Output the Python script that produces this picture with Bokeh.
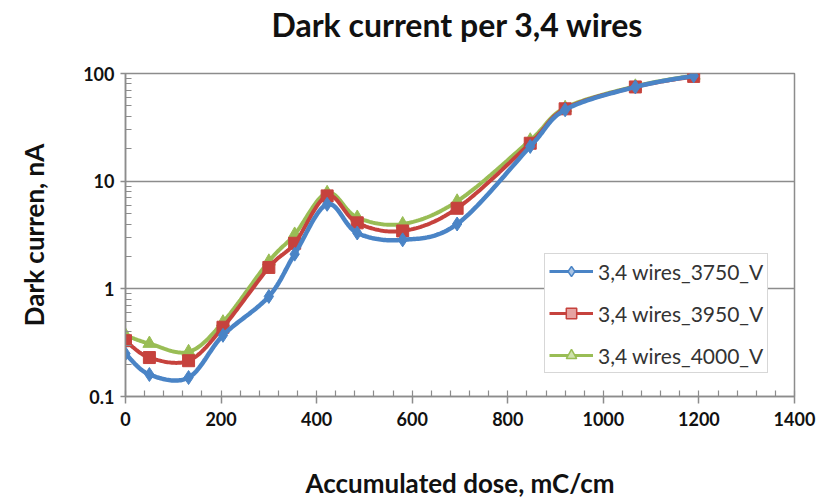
import numpy as np
from bokeh.plotting import figure
from bokeh.models import (ColumnDataSource, Legend, LegendItem, SingleIntervalTicker,
                          FixedTicker, NumeralTickFormatter, Range1d, Title)
from bokeh.embed import file_html
from bokeh.resources import INLINE

# ---- data ----
dose = [0, 50, 132, 204, 300, 354, 422, 485, 580, 694, 847, 920, 1067, 1189]
names = ["3,4 wires_3750_V", "3,4 wires_3950_V", "3,4 wires_4000_V"]
cur_3750 = [0.25, 0.16, 0.15, 0.37, 0.85, 2.1, 6.1, 3.3, 2.85, 4.0, 21.0, 46.0, 75.0, 95.0]
cur_3950 = [0.33, 0.23, 0.215, 0.44, 1.58, 2.65, 7.3, 4.1, 3.45, 5.6, 22.5, 47.0, 75.0, 94.0]
cur_4000 = [0.37, 0.31, 0.26, 0.49, 1.8, 3.2, 7.8, 4.6, 4.0, 6.5, 24.0, 48.0, 76.0, 96.0]
y_ticks = [0.1, 1, 10, 100]
x_tick_step = 200
title_text = "Dark current per 3,4 wires"

colors = ["#4a84c6", "#c6423d", "#99bd55"]
light = ["#a9c4e4", "#e6a3a1", "#cfe1ad"]
markers = ["diamond", "square", "triangle"]
msizes = [14, 12, 13]
lwidths = [4.5, 4.0, 4.0]


def smooth(xs, ys, n=30):
    """Smoothed (Excel-like Bezier) path through the points, in screen-like space."""
    u = np.asarray(xs, float) / 1400.0 * 669.0
    v = np.log10(np.asarray(ys, float)) * 109.2
    P = np.column_stack([u, v])
    P = np.vstack([P[0], P, P[-1]])
    pts = []
    for i in range(1, len(P) - 2):
        p0, p1, p2, p3 = P[i - 1], P[i], P[i + 1], P[i + 2]
        c1 = p1 + (p2 - p0) / 6.0
        c2 = p2 - (p3 - p1) / 6.0
        t = np.linspace(0, 1, n)[:, None]
        b = ((1 - t) ** 3) * p1 + 3 * ((1 - t) ** 2) * t * c1 + 3 * (1 - t) * t ** 2 * c2 + t ** 3 * p2
        pts.append(b if i == 1 else b[1:])
    B = np.vstack(pts)
    return B[:, 0] / 669.0 * 1400.0, 10 ** (B[:, 1] / 109.2)


p = figure(width=836, height=501, x_range=Range1d(0, 1400), y_range=Range1d(0.1, 100),
           y_axis_type="log", output_backend="svg", toolbar_location=None,
           min_border_left=125, min_border_right=42, min_border_top=73, min_border_bottom=100,
           title=None)

# spacer panel (closest to the frame), then the real title above it
p.add_layout(Title(text=" ", text_font_size="2px", standoff=26), "above")
p.add_layout(Title(text=title_text, text_font="Lato", text_font_size="32px",
                   text_font_style="bold", text_color="#111111", align="left",
                   offset=146, vertical_align="bottom", standoff=0), "above")

gray = "#8c8c8c"
p.outline_line_color = gray
p.outline_line_width = 1.5
p.xgrid.visible = False
p.ygrid.grid_line_color = gray
p.ygrid.grid_line_width = 1.5

# axes
p.xaxis.ticker = SingleIntervalTicker(interval=x_tick_step, num_minor_ticks=5)
minor = [m * 10.0 ** k for k in (-1, 0, 1) for m in range(2, 10)]
p.yaxis.ticker = FixedTicker(ticks=y_ticks, minor_ticks=minor)
p.yaxis.formatter = NumeralTickFormatter(format="0.[0]")

for ax in (p.xaxis[0], p.yaxis[0]):
    ax.axis_line_color = gray
    ax.axis_line_width = 1.5
    ax.major_tick_line_color = gray
    ax.major_tick_line_width = 1.5
    ax.minor_tick_line_color = gray
    ax.minor_tick_line_width = 1.2
    ax.major_label_text_font = "Lato"
    ax.major_label_text_font_style = "bold"
    ax.major_label_text_font_size = "18px"
    ax.major_label_text_color = "#111111"
    ax.axis_label_text_font = "Lato"
    ax.axis_label_text_font_style = "bold"
    ax.axis_label_text_font_size = "26px"
    ax.axis_label_text_color = "#111111"
    ax.major_tick_in = 0
    ax.major_tick_out = 7
    ax.minor_tick_in = 6
    ax.minor_tick_out = 0

p.xaxis.axis_label = "Accumulated dose, mC/cm"
p.yaxis.axis_label = "Dark curren, nA"
p.xaxis.major_label_standoff = 8
p.xaxis.axis_label_standoff = 38
p.yaxis.major_tick_out = 5
p.yaxis.major_label_standoff = 6
p.yaxis.axis_label_standoff = 30

series = [cur_3750, cur_3950, cur_4000]
items = []
for idx in (2, 1, 0):
    ys = series[idx]
    sx, sy = smooth(dose, ys)
    p.line(sx, sy, line_color=colors[idx], line_width=lwidths[idx])
    p.scatter(dose, ys, marker=markers[idx], size=msizes[idx], fill_color=colors[idx],
              line_color=colors[idx], line_width=1)

for idx in range(3):
    blank = ColumnDataSource(data=dict(x=[float("nan")], y=[float("nan")]))
    lr = p.line("x", "y", source=blank, line_color=colors[idx], line_width=3)
    mr = p.scatter("x", "y", source=blank, marker=markers[idx], size=msizes[idx] - 1,
                   fill_color=light[idx], line_color=colors[idx], line_width=1.5)
    items.append(LegendItem(label=names[idx], renderers=[lr, mr]))

legend = Legend(items=items, location=(419, 23))
legend.label_text_font = "Lato"
legend.label_text_font_size = "21px"
legend.label_text_color = "#333333"
legend.glyph_width = 44
legend.glyph_height = 26
legend.label_height = 26
legend.label_standoff = 5
legend.spacing = 16
legend.padding = 4
legend.margin = 0
legend.border_line_color = "#b0b0b0"
legend.border_line_width = 1
legend.background_fill_color = "white"
legend.background_fill_alpha = 1.0
p.add_layout(legend, "center")

open("out.html", "w").write(file_html(p, INLINE))
